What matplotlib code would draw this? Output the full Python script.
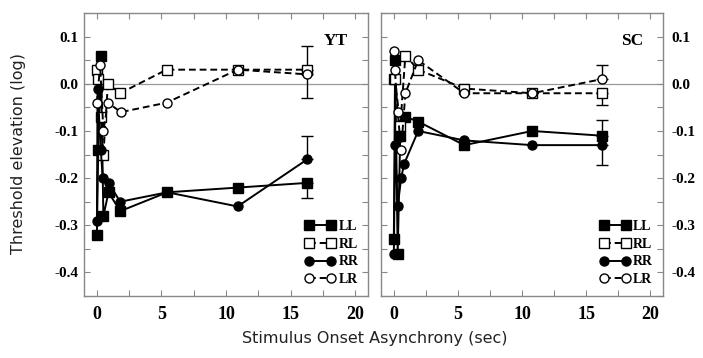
import matplotlib
matplotlib.use("Agg")
import matplotlib.pyplot as plt
from matplotlib.ticker import MultipleLocator

### data
# YT (left panel)
yt_ll_x = [0, 0.1, 0.3, 0.5, 0.9, 1.8, 5.45, 10.9, 16.3]
yt_ll_y = [-0.32, -0.14, 0.06, -0.28, -0.23, -0.27, -0.23, -0.22, -0.21]
yt_rl_x = [0, 0.1, 0.3, 0.5, 0.85, 1.8, 5.4, 10.9, 16.3]
yt_rl_y = [0.03, 0.01, -0.07, -0.15, 0.0, -0.02, 0.03, 0.03, 0.03]
yt_rr_x = [0, 0.05, 0.3, 0.45, 0.9, 1.8, 5.45, 10.9, 16.3]
yt_rr_y = [-0.29, -0.01, -0.14, -0.2, -0.21, -0.25, -0.23, -0.26, -0.16]
yt_lr_x = [0, 0.25, 0.5, 0.85, 1.85, 5.4, 10.9, 16.3]
yt_lr_y = [-0.04, 0.04, -0.1, -0.04, -0.06, -0.04, 0.03, 0.02]

# SC (right panel)
sc_ll_x = [0, 0.1, 0.3, 0.5, 0.9, 1.9, 5.5, 10.8, 16.25]
sc_ll_y = [-0.33, 0.05, -0.36, -0.11, -0.07, -0.08, -0.13, -0.10, -0.11]
sc_rl_x = [0, 0.1, 0.5, 0.9, 1.9, 5.5, 10.8, 16.25]
sc_rl_y = [0.01, 0.01, -0.09, 0.06, 0.03, -0.01, -0.02, -0.02]
sc_rr_x = [0, 0.1, 0.3, 0.57, 0.8, 1.9, 5.5, 10.8, 16.25]
sc_rr_y = [-0.36, -0.13, -0.26, -0.2, -0.17, -0.1, -0.12, -0.13, -0.13]
sc_lr_x = [0, 0.08, 0.3, 0.57, 0.9, 1.9, 5.5, 10.8, 16.25]
sc_lr_y = [0.07, 0.03, -0.06, -0.14, -0.02, 0.05, -0.02, -0.02, 0.01]

# one-sided error bars on the last point: (lower, upper)
yt_err = {'LL': (0.032, 0), 'RL': (0, 0.05), 'RR': (0, 0.05), 'LR': (0.05, 0)}
sc_err = {'LL': (0, 0.034), 'RL': (0.024, 0), 'RR': (0.042, 0), 'LR': (0, 0.029)}

labels = ['LL', 'RL', 'RR', 'LR']
styles = {'LL': dict(marker='s', ls='-', mfc='black'),
          'RL': dict(marker='s', ls='--', mfc='white'),
          'RR': dict(marker='o', ls='-', mfc='black'),
          'LR': dict(marker='o', ls='--', mfc='white')}

serif_bold = dict(family='Liberation Serif', weight='bold')

fig = plt.figure(figsize=(7.03, 3.58), dpi=100)
ax1 = fig.add_axes([0.1195, 0.173, 0.404, 0.7905])
ax2 = fig.add_axes([0.542, 0.173, 0.401, 0.7905])

panels = [
    (ax1, 'YT', {'LL': (yt_ll_x, yt_ll_y), 'RL': (yt_rl_x, yt_rl_y),
                 'RR': (yt_rr_x, yt_rr_y), 'LR': (yt_lr_x, yt_lr_y)}, yt_err),
    (ax2, 'SC', {'LL': (sc_ll_x, sc_ll_y), 'RL': (sc_rl_x, sc_rl_y),
                 'RR': (sc_rr_x, sc_rr_y), 'LR': (sc_lr_x, sc_lr_y)}, sc_err),
]

fmt = plt.FuncFormatter(lambda v, p: f"{v:.1f}".replace('-0.0', '0.0'))

for ax, name, series, err in panels:
    ax.axhline(0, color='#999999', lw=0.9, zorder=1)
    for lab in labels:
        x, y = series[lab]
        st = styles[lab]
        ax.plot(x, y, color='black', lw=1.4, ls=st['ls'],
                dashes=(3.5, 2) if st['ls'] == '--' else (None, None),
                marker=st['marker'], ms=6.5, mfc=st['mfc'], mec='black', mew=1.0,
                label=lab, zorder=3)
        lo, hi = err[lab]
        ax.errorbar([x[-1]], [y[-1]], yerr=[[lo], [hi]], fmt='none', ecolor='black',
                    elinewidth=1.0, capsize=4, capthick=1.0, zorder=2)

    ax.set_xlim(-1, 21)
    ax.set_ylim(-0.45, 0.15)
    ax.xaxis.set_major_locator(MultipleLocator(5))
    ax.xaxis.set_minor_locator(MultipleLocator(2.5))
    ax.yaxis.set_major_locator(MultipleLocator(0.1))
    ax.yaxis.set_minor_locator(MultipleLocator(0.05))
    ax.yaxis.set_major_formatter(fmt)
    ax.tick_params(which='both', direction='in', top=True, right=True, left=True,
                   color='#888888', length=4, width=0.8)
    ax.tick_params(axis='x', pad=7)
    ax.tick_params(axis='y', pad=4)
    for sp in ax.spines.values():
        sp.set_color('#888888')
        sp.set_linewidth(1.0)
    ax.text(0.93, 0.93, name, transform=ax.transAxes, ha='right', va='top',
            fontsize=12.5, **serif_bold)
    ax.legend(loc='lower right', frameon=False, numpoints=2, handlelength=2.2,
              handletextpad=0.2, labelspacing=0.35, borderaxespad=0.3,
              prop=dict(family='Liberation Serif', weight='bold', size=10))

ax2.tick_params(axis='y', labelleft=False, labelright=True, pad=6)
for ax in (ax1, ax2):
    for t in ax.get_xticklabels():
        t.set_fontfamily('Liberation Serif')
        t.set_fontweight('bold')
        t.set_fontsize(13)
    for t in ax.get_yticklabels():
        t.set_fontfamily('Liberation Serif')
        t.set_fontweight('bold')
        t.set_fontsize(11)

fig.text(0.027, 0.57, 'Threshold elevation (log)', rotation=90, ha='center', va='center',
         fontsize=11.5, family='DejaVu Sans', color='#222222')
fig.text(0.533, 0.055, 'Stimulus Onset Asynchrony (sec)', ha='center', va='center',
         fontsize=11.5, family='DejaVu Sans', color='#222222')

fig.savefig('out.png', dpi=100)
